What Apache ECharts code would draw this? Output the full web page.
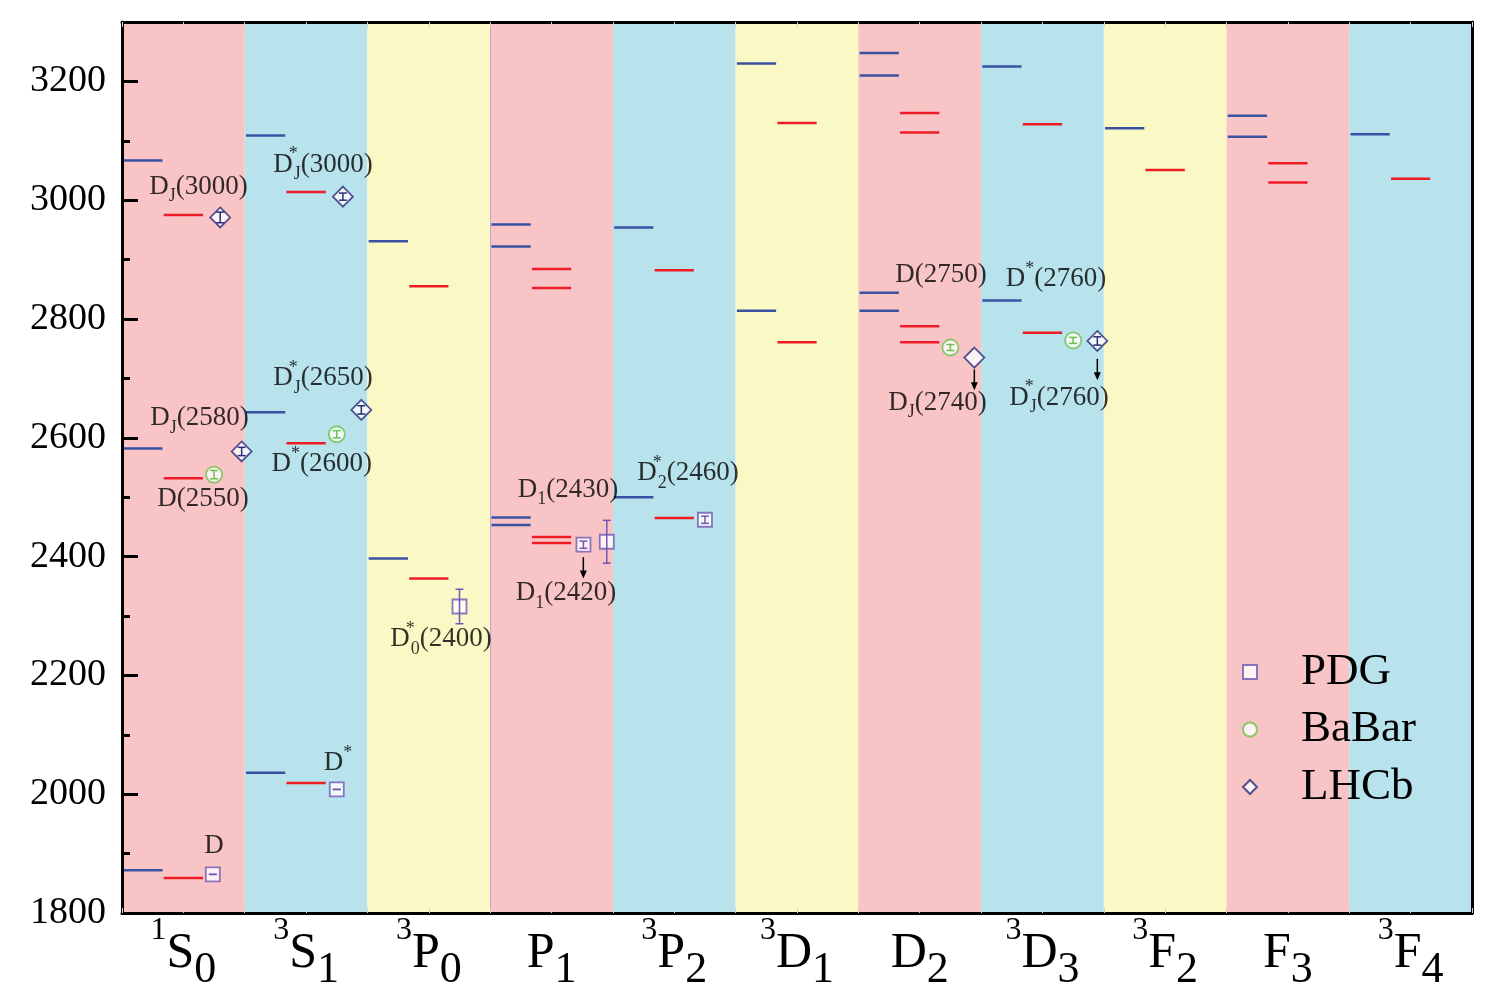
<!DOCTYPE html>
<html>
<head>
<meta charset="utf-8">
<script src="https://cdn.jsdelivr.net/npm/echarts@6/dist/echarts.min.js"></script>
<style>
html, body { margin: 0; padding: 0; background: #fff; }
#view { width: 1504px; height: 996px; }
</style>
</head>
<body>
<div id="view"></div>
<script>
// charmed meson spectrum: two model predictions per state + measured masses (MeV)
var yMin = 1800, yMax = 3300;

var states      = ['1S0', '3S1', '3P0', 'P1', '3P2', '3D1', 'D2', '3D3', '3F2', 'F3', '3F4'];
var stateSup    = ['1', '3', '3', '', '3', '3', '', '3', '3', '', '3'];
var stateLetter = ['S', 'S', 'P', 'P', 'P', 'D', 'D', 'D', 'F', 'F', 'F'];
var stateSub    = ['0', '1', '0', '1', '2', '1', '2', '3', '2', '3', '4'];

// model levels per state (blue = left column, red = middle column)
var blueMasses = [
    [1872, 2582, 3067], [2036, 2643, 3109], [2397, 2931], [2453, 2466, 2922, 2959],
    [2500, 2954], [2814, 3230], [2814, 2844, 3210, 3248], [2831, 3225],
    [3121], [3107, 3142], [3111]
];
var redMasses = [
    [1859, 2532, 2975], [2019, 2591, 3014], [2363, 2855], [2423, 2433, 2852, 2884],
    [2465, 2882], [2761, 3130], [2761, 2788, 3114, 3147], [2777, 3128],
    [3051], [3030, 3062], [3036]
];

// experiments: x is the position along the state axis
var pdgX    = [0.74, 1.75, 2.75, 3.76, 3.95, 4.75];
var pdgMass = [1865, 2008, 2316, 2420, 2425, 2462];
var pdgErr  = [0, 0, 29, 6, 36, 6];

var babarX    = [0.75, 1.75, 6.75, 7.75];
var babarMass = [2538, 2606, 2752, 2764];
var babarErr  = [7, 6, 5, 5];

var lhcbX    = [0.80, 0.975, 1.80, 1.95, 6.945, 7.947];
var lhcbMass = [2971, 2577, 3006, 2647, 2735, 2763];
var lhcbErr  = [9, 7, 6, 7, null, 7];

// particle name annotations
var noteText = [
    '{m|D}{sub|J}{m|(3000)}', '{m|D}{supw|*}{sub|J}{m|(3000)}', '{m|D}{supw|*}{sub|J}{m|(2650)}',
    '{m|D}{sub|J}{m|(2580)}', '{m|D}{sup|*}{m|(2600)}', '{m|D(2550)}',
    '{m|D}{sub|1}{m|(2430)}', '{m|D}{supw|*}{sub|2}{m|(2460)}', '{m|D}{sub|1}{m|(2420)}',
    '{m|D}{supw|*}{sub|0}{m|(2400)}', '{m|D(2750)}', '{m|D}{sup|*}{m|(2760)}',
    '{m|D}{sub|J}{m|(2740)}', '{m|D}{supw|*}{sub|J}{m|(2760)}', '{m|D}{sup|*}', '{m|D}'
];
var noteX = [0.623, 1.638, 1.638, 0.631, 1.627, 0.66, 3.634, 4.612, 3.618, 2.599, 6.673, 7.61, 6.645, 7.635, 1.76, 0.75];
var noteY = [3023, 3060, 2701, 2633, 2556, 2497, 2513, 2541, 2339, 2261, 2875, 2867, 2659, 2668, 2052, 1913];

var arrowX    = [3.759, 6.945, 7.947];
var arrowFrom = [2399, 2715, 2733];
var arrowTo   = [2363, 2680, 2697];

var serif = 'Liberation Serif';
var bandColors = ['#F9C4C5', '#B8E2EC', '#FAF8C5'];

var myChart = echarts.init(document.getElementById('view'));

function levelSeries(masses, x0, x1, color) {
    var data = [];
    masses.forEach(function (list, i) {
        list.forEach(function (m) { data.push([i, m]); });
    });
    return {
        type: 'custom', silent: true, z: 3, data: data,
        renderItem: function (params, api) {
            var i = api.value(0), m = api.value(1);
            var a = api.coord([i + x0, m]), b = api.coord([i + x1, m]);
            return {
                type: 'line',
                shape: { x1: a[0], y1: a[1], x2: b[0], y2: b[1] },
                style: { stroke: color, lineWidth: 2.5 }
            };
        }
    };
}

function pointData(xs, ms) {
    return xs.map(function (x, i) { return [x, ms[i]]; });
}

function errorSeries(xs, ms, es, color) {
    var data = [];
    xs.forEach(function (x, i) {
        if (es[i] != null) data.push([x, ms[i], es[i]]);
    });
    return {
        type: 'custom', silent: true, z: 5, data: data,
        renderItem: function (params, api) {
            var x = api.value(0), m = api.value(1), e = api.value(2);
            var hi = api.coord([x, m + e]), lo = api.coord([x, m - e]);
            var w = 4;
            var st = { stroke: color, lineWidth: 1.5 };
            return {
                type: 'group',
                children: [
                    { type: 'line', shape: { x1: hi[0], y1: hi[1], x2: lo[0], y2: lo[1] }, style: st },
                    { type: 'line', shape: { x1: hi[0] - w, y1: hi[1], x2: hi[0] + w, y2: hi[1] }, style: st },
                    { type: 'line', shape: { x1: lo[0] - w, y1: lo[1], x2: lo[0] + w, y2: lo[1] }, style: st }
                ]
            };
        }
    };
}

var noteRich = {
    m:    { fontFamily: serif, fontSize: 27, lineHeight: 38, color: '#000' },
    sub:  { fontFamily: serif, fontSize: 18, lineHeight: 12, verticalAlign: 'bottom', color: '#000' },
    sup:  { fontFamily: serif, fontSize: 18, lineHeight: 18, verticalAlign: 'top', color: '#000' },
    supw: { fontFamily: serif, fontSize: 18, lineHeight: 18, verticalAlign: 'top', width: 1, color: '#000' }
};

option = {
    animation: false,
    backgroundColor: '#fff',
    grid: { left: 122, right: 32, top: 22, bottom: 83 },
    legend: {
        data: ['PDG', 'BaBar', 'LHCb'],
        orient: 'vertical',
        left: 1237, top: 644,
        itemWidth: 14, itemHeight: 14, itemGap: 11.5,
        textStyle: { fontFamily: serif, fontSize: 45, lineHeight: 46, color: '#000', padding: [0, 0, 0, 39] }
    },
    xAxis: [{
        type: 'value', min: 0, max: 11, interval: 0.5, position: 'bottom', z: 10,
        axisLine: { show: true, lineStyle: { color: '#000', width: 3 } },
        axisTick: { show: true, inside: true, length: 5, lineStyle: { color: '#d0d0d0', width: 1 } },
        splitLine: { show: false },
        axisLabel: {
            margin: 2,
            formatter: function (v) {
                if (Math.abs(v % 1 - 0.5) > 1e-6) return '';
                var i = Math.floor(v);
                var s = stateSup[i] ? '{sup|' + stateSup[i] + '}' : '';
                return s + '{main|' + stateLetter[i] + '}{sub|' + stateSub[i] + '}';
            },
            rich: {
                sup:  { fontFamily: serif, fontSize: 32, lineHeight: 32, verticalAlign: 'top', color: '#000' },
                main: { fontFamily: serif, fontSize: 50, lineHeight: 77, color: '#000' },
                sub:  { fontFamily: serif, fontSize: 44, lineHeight: 46, verticalAlign: 'bottom', color: '#000' }
            }
        }
    }, {
        type: 'value', min: 0, max: 11, interval: 0.5, position: 'top', z: 10,
        axisLine: { show: true, lineStyle: { color: '#000', width: 3 } },
        axisTick: { show: true, inside: true, length: 5, lineStyle: { color: '#d0d0d0', width: 1 } },
        axisLabel: { show: false },
        splitLine: { show: false }
    }],
    yAxis: [{
        type: 'value', min: yMin, max: yMax, interval: 200, position: 'left', z: 10,
        axisLine: { show: true, lineStyle: { color: '#000', width: 3 } },
        axisTick: { show: true, inside: true, length: 16, lineStyle: { color: '#000', width: 3 } },
        axisLabel: {
            fontFamily: serif, fontSize: 38, color: '#000', margin: 16, showMaxLabel: false,
            formatter: function (v) { return String(v); }
        },
        splitLine: { show: false }
    }, {
        type: 'value', min: yMin, max: yMax, interval: 100, position: 'left', z: 10,
        axisLine: { show: false },
        axisTick: { show: true, inside: true, length: 8, lineStyle: { color: '#000', width: 3 } },
        axisLabel: { show: false },
        splitLine: { show: false }
    }, {
        type: 'value', min: yMin, max: yMax, position: 'right', z: 10,
        axisLine: { show: true, lineStyle: { color: '#000', width: 3 } },
        axisTick: { show: false },
        axisLabel: { show: false },
        splitLine: { show: false }
    }],
    series: [
        {
            type: 'custom', silent: true, z: 1,
            data: states.map(function (s, i) { return [i]; }),
            renderItem: function (params, api) {
                var i = api.value(0);
                var p0 = api.coord([i, yMax]), p1 = api.coord([i + 1, yMin]);
                return {
                    type: 'rect',
                    shape: { x: p0[0], y: p0[1], width: p1[0] - p0[0], height: p1[1] - p0[1] },
                    style: { fill: bandColors[i % 3] }
                };
            },
            markLine: {
                silent: true, symbol: 'none', label: { show: false },
                lineStyle: { color: '#B9A7D9', width: 1, type: 'solid' },
                data: [{ xAxis: 3 }]
            }
        },
        levelSeries(blueMasses, 0.01, 0.33, '#3A52A3'),
        levelSeries(redMasses, 0.34, 0.66, '#EE1C25'),
        {
            name: 'PDG', type: 'scatter', symbol: 'rect', symbolSize: 14, z: 4,
            itemStyle: { color: '#fff', borderColor: '#7157B3', borderWidth: 1.8 },
            data: pointData(pdgX, pdgMass)
        },
        {
            name: 'BaBar', type: 'scatter', symbol: 'circle', symbolSize: 16, z: 4,
            itemStyle: { color: '#fff', borderColor: '#6CC24A', borderWidth: 1.8 },
            data: pointData(babarX, babarMass)
        },
        {
            name: 'LHCb', type: 'scatter', symbol: 'diamond', symbolSize: 20, z: 4,
            itemStyle: { color: '#fff', borderColor: '#2B2D7A', borderWidth: 1.8 },
            data: pointData(lhcbX, lhcbMass)
        },
        errorSeries(pdgX, pdgMass, pdgErr, '#7157B3'),
        errorSeries(babarX, babarMass, babarErr, '#6CC24A'),
        errorSeries(lhcbX, lhcbMass, lhcbErr, '#2B2D7A'),
        {
            type: 'custom', silent: true, z: 6,
            data: arrowX.map(function (x, i) { return [x, arrowFrom[i], arrowTo[i]]; }),
            renderItem: function (params, api) {
                var a = api.coord([api.value(0), api.value(1)]);
                var b = api.coord([api.value(0), api.value(2)]);
                return {
                    type: 'group',
                    children: [
                        { type: 'line', shape: { x1: a[0], y1: a[1], x2: b[0], y2: b[1] - 6 }, style: { stroke: '#000', lineWidth: 1.5 } },
                        { type: 'polygon', shape: { points: [[b[0] - 3.5, b[1] - 8], [b[0] + 3.5, b[1] - 8], [b[0], b[1]]] }, style: { fill: '#000' } }
                    ]
                };
            }
        },
        {
            type: 'scatter', silent: true, z: 7, symbolSize: 1,
            itemStyle: { color: 'transparent' },
            data: noteText.map(function (t, i) { return { name: t, value: [noteX[i], noteY[i]] }; }),
            label: {
                show: true, position: 'inside',
                formatter: function (p) { return p.name; },
                rich: noteRich
            }
        }
    ]
};

myChart.setOption(option);
</script>
</body>
</html>
